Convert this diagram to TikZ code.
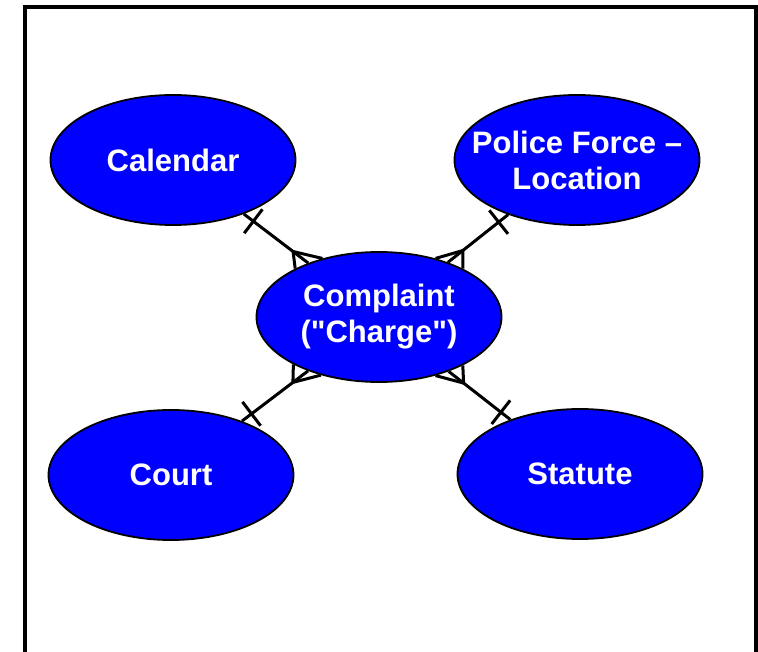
\documentclass[tikz,border=0pt]{standalone}
\usepackage{fontspec}
\setmainfont{Liberation Sans}
\usetikzlibrary{shapes.geometric,calc}
\definecolor{entblue}{RGB}{0,0,255}
\newcommand{\zw}[1]{\makebox[0pt]{#1}}
\begin{document}
\begin{tikzpicture}[x=1pt,y=-1pt,
  ent/.style={ellipse, draw=black, line width=1.8pt, fill=entblue,
    minimum width=245pt, minimum height=130pt, inner sep=0pt,
    text=white, font=\bfseries\fontsize{31}{36}\selectfont, align=center},
  conn/.style={line width=3pt, line join=miter},
  frame/.style={line width=4.5pt}
]
\useasboundingbox (0,0) rectangle (758,652);
\draw[frame] (25,7) rectangle (756,700);

\node[ent] (cmp) at (379,317) {\zw{Complaint}\\\zw{(\textquotedbl Charge\textquotedbl)}};
\node[ent] (cal) at (173,160) {\zw{Calendar}};
\node[ent] (pol) at (577,160) {\zw{Police Force –}\\\zw{Location}};
\node[ent] (crt) at (171,475) {\zw{Court}};
\node[ent] (sta) at (580,474) {\zw{Statute}};

% Calendar -- Complaint
\draw[conn] (cal) -- (cmp) coordinate[pos=0] (s1) coordinate[pos=1] (e1);
\coordinate (a1) at ($(e1)!19pt!(s1)$);
\draw[conn] (cmp.150.7) -- (a1) -- (cmp.134.7);
\coordinate (t1) at ($(s1)!12pt!(e1)$);
\draw[conn] ($(t1)!15pt!90:(e1)$) -- ($(t1)!15pt!-90:(e1)$);

% Police Force -- Complaint
\draw[conn] (pol) -- (cmp) coordinate[pos=0] (s2) coordinate[pos=1] (e2);
\coordinate (a2) at ($(e2)!19pt!(s2)$);
\draw[conn] (cmp.46.4) -- (a2) -- (cmp.30.4);
\coordinate (t2) at ($(s2)!12pt!(e2)$);
\draw[conn] ($(t2)!15pt!90:(e2)$) -- ($(t2)!15pt!-90:(e2)$);

% Court -- Complaint
\draw[conn] (crt) -- (cmp) coordinate[pos=0] (s3) coordinate[pos=1] (e3);
\coordinate (a3) at ($(e3)!19pt!(s3)$);
\draw[conn] (cmp.225.2) -- (a3) -- (cmp.209.2);
\coordinate (t3) at ($(s3)!12pt!(e3)$);
\draw[conn] ($(t3)!15pt!90:(e3)$) -- ($(t3)!15pt!-90:(e3)$);

% Statute -- Complaint
\draw[conn] (sta) -- (cmp) coordinate[pos=0] (s4) coordinate[pos=1] (e4);
\coordinate (a4) at ($(e4)!19pt!(s4)$);
\draw[conn] (cmp.-30) -- (a4) -- (cmp.-46);
\coordinate (t4) at ($(s4)!12pt!(e4)$);
\draw[conn] ($(t4)!15pt!90:(e4)$) -- ($(t4)!15pt!-90:(e4)$);
\end{tikzpicture}
\end{document}
